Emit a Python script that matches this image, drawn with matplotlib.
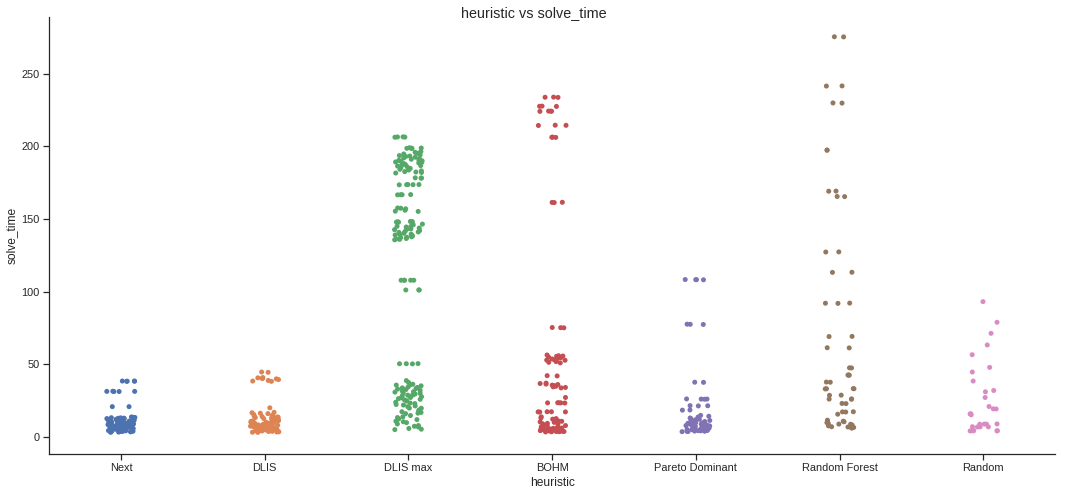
import numpy as np
import pandas as pd
import matplotlib
matplotlib.use("Agg")
import matplotlib.pyplot as plt
import seaborn as sns

heuristics = ["Next", "DLIS", "DLIS max", "BOHM", "Pareto Dominant", "Random Forest", "Random"]

next_times = [38.6, 38.6, 38.5, 38.5, 38.4, 31.6, 31.5, 31.5, 31.4, 31.4, 21.0, 21.0,
              13.9, 13.6, 13.4, 13.1, 12.8, 12.5, 12.2, 11.9, 11.7, 11.4, 11.1, 10.9, 10.6, 10.4,
              10.2, 9.9, 9.7, 9.5, 9.3, 9.1, 8.9, 8.7, 8.5, 8.3, 8.1, 7.9, 7.7, 7.5, 7.3, 7.1,
              6.9, 6.7, 6.5, 6.3, 6.1, 5.9, 5.7, 5.5, 5.3, 5.1, 4.9, 4.7, 4.5, 4.3, 4.1, 3.9,
              3.7, 3.5, 13.7, 13.0, 12.3, 11.5, 10.8, 10.0, 9.4, 8.8, 8.2, 7.6, 7.0, 6.4, 5.8,
              5.2, 4.6, 4.0, 3.6, 12.7, 11.2, 9.8, 8.6, 7.4, 6.2, 5.0, 4.2, 3.8, 13.3, 10.5,
              8.0, 6.0, 4.4, 3.4, 9.0, 7.2, 5.6, 4.8, 3.9]

dlis_times = [44.8, 44.6, 41.0, 40.8, 40.5, 40.3, 40.1, 39.6, 39.0, 38.6, 38.4, 20.2, 17.1, 16.5,
              16.8, 16.2, 15.5, 14.9, 14.6, 14.2, 13.9, 13.5, 13.1, 12.8, 12.4, 12.0, 11.7, 11.3,
              11.0, 10.6, 10.3, 10.0, 9.7, 9.4, 9.1, 8.8, 8.5, 8.2, 7.9, 7.6, 7.3, 7.0, 6.7, 6.4,
              6.1, 5.8, 5.5, 5.2, 4.9, 4.6, 4.3, 4.0, 3.7, 3.4, 14.4, 13.3, 12.2, 11.1, 10.1, 9.2,
              8.4, 7.7, 7.1, 6.5, 5.9, 5.3, 4.7, 4.1, 3.6, 13.7, 11.9, 10.4, 8.9, 7.4, 6.2, 5.0,
              3.9, 12.6, 9.6, 6.8, 4.4, 3.3]

dlis_max_times = [206.5, 206.4, 206.3, 206.2, 199.0, 198.8, 198.6, 198.4, 198.7,
                  196.4, 195.8, 195.2, 194.7, 194.1, 193.6, 193.0, 192.5, 191.9, 191.4, 190.8,
                  190.3, 189.7, 189.2, 188.6, 188.1, 187.5, 187.0, 186.4, 185.9, 185.3, 184.8,
                  184.2, 183.7, 183.1, 182.6, 182.0, 181.6, 193.3, 191.1, 188.9, 186.7, 184.5,
                  182.3, 190.0, 178.3, 178.2, 178.1, 173.7, 173.6, 173.5, 173.6, 173.7,
                  166.8, 166.7, 166.6, 166.7, 157.6, 157.4, 156.0, 155.4, 155.2, 157.0,
                  148.3, 148.2, 148.1, 147.9, 147.8, 146.5, 145.0, 144.5, 143.8, 143.2, 142.7,
                  142.0, 141.5, 140.8, 140.2, 139.6, 139.0, 138.4, 137.8, 137.2, 136.6, 136.0,
                  135.7, 144.9, 143.0, 141.1, 139.3, 137.5, 146.0, 136.3,
                  107.9, 107.9, 107.9, 107.9, 107.9, 101.2, 101.2, 101.2,
                  50.6, 50.5, 50.5, 50.4,
                  38.9, 37.6, 36.4, 35.3, 34.2, 33.1, 32.2, 31.3, 30.5, 29.7, 28.9, 28.1, 27.3,
                  26.5, 25.7, 24.9, 24.0, 23.1, 22.1, 21.0, 19.9, 18.7, 17.5, 16.2, 14.9, 13.5,
                  12.1, 10.6, 9.1, 7.5, 6.0, 5.2, 36.0, 33.5, 31.0, 29.0, 27.0, 25.0, 22.5, 20.0,
                  17.0, 14.0, 11.0, 8.0, 5.5, 34.6, 30.1, 26.0, 21.5, 16.5, 12.5, 7.0, 32.8, 28.5,
                  23.5, 18.0, 10.0, 35.8, 33.9, 31.8, 29.9, 27.8]

bohm_times = [233.8, 233.7, 233.6, 227.6, 227.5, 227.4, 224.2, 224.1, 224.0, 224.1,
              214.5, 214.4, 214.3, 206.3, 206.2, 206.1, 161.5, 161.4, 161.3, 75.4, 75.3, 75.2,
              56.5, 56.0, 55.6, 55.1, 54.7, 54.2, 53.8, 53.3, 52.9, 52.4, 52.0, 51.5, 51.1, 55.8,
              53.0, 42.3, 42.1, 37.2, 36.9, 36.5, 36.2, 35.8, 35.4, 35.0, 34.6, 34.2, 33.9, 27.3,
              23.7, 23.6, 23.6, 23.5, 23.6, 17.5, 17.4, 17.3, 17.4, 17.5,
              14.0, 13.2, 12.4, 11.6, 10.9, 10.2, 9.5, 8.9, 8.3, 7.7, 7.1, 6.6, 6.1, 5.6, 5.1,
              4.7, 4.3, 3.9, 3.6, 12.8, 11.0, 9.2, 7.4, 5.8, 4.5, 3.7, 10.5, 8.0, 6.3, 4.9, 4.1,
              3.8, 5.3, 4.4, 3.9, 6.8, 5.0]

pareto_times = [108.4, 108.3, 108.2, 108.3, 77.7, 77.6, 77.5, 37.8, 37.7, 26.3, 26.2, 26.1, 26.2,
                21.7, 21.6, 21.5, 18.7, 18.6,
                15.0, 14.4, 13.8, 13.2, 12.6, 12.0, 11.5, 11.0, 10.5, 10.0, 9.5, 9.1, 8.7, 8.3,
                7.9, 7.5, 7.1, 6.8, 6.5, 6.2, 5.9, 5.6, 5.3, 5.0, 4.7, 4.4, 4.1, 3.8, 12.3, 10.8,
                9.3, 8.0, 7.0, 6.0, 5.2, 4.5, 3.9, 11.2, 8.9, 7.3, 6.3, 5.4, 4.6, 4.0, 9.8, 7.7,
                6.6, 5.7, 4.8, 4.2]

forest_times = [275.3, 275.2, 241.5, 241.4, 229.8, 229.7, 197.4, 197.3, 169.2, 169.1, 165.5, 165.4,
                127.4, 127.3, 113.4, 113.3, 92.1, 92.0, 92.2, 69.3, 69.2, 61.5, 61.4, 47.7, 47.6,
                42.7, 42.6, 42.8, 37.9, 37.8, 33.3, 33.2, 33.4, 33.3, 28.9, 28.8, 26.2, 26.1, 26.3,
                23.2, 23.1, 17.4, 17.3, 17.5, 15.8, 11.7, 11.2, 10.6, 10.0, 9.4, 8.9, 8.3, 7.8,
                7.2, 6.7, 6.2, 11.0, 9.0, 7.0]

random_times = [93.2, 79.0, 71.4, 63.4, 56.7, 48.0, 44.8, 38.6, 32.1, 31.2, 27.3, 21.1, 19.5, 19.4,
                16.1, 16.0, 15.4, 9.1, 9.0, 8.9, 9.0, 7.2, 7.1, 7.0, 7.1, 4.5, 4.4, 4.3, 4.4, 4.5,
                4.4]

series = [next_times, dlis_times, dlis_max_times, bohm_times, pareto_times, forest_times, random_times]
df = pd.DataFrame({
    "heuristic": [h for h, vals in zip(heuristics, series) for _ in vals],
    "solve_time": [v for vals in series for v in vals],
})

sns.set_theme(style="ticks")
plt.rcParams["font.family"] = ["Liberation Sans", "DejaVu Sans"]

fig, ax = plt.subplots(figsize=(1068 / 72, 495 / 72), dpi=72)
np.random.seed(4)
sns.stripplot(data=df, x="heuristic", y="solve_time", hue="heuristic", order=heuristics,
              hue_order=heuristics, palette="deep", legend=False, ax=ax)
ax.set_ylim(-11.5, 289)
sns.despine()
fig.suptitle("heuristic vs solve_time", y=0.987)
fig.subplots_adjust(left=0.046, right=0.988, bottom=0.083, top=0.966)
fig.savefig("out.png", dpi=72)
